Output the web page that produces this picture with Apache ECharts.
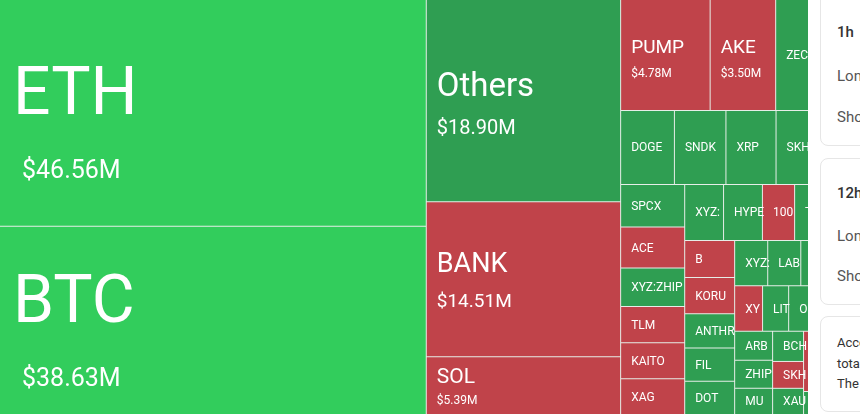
<!DOCTYPE html>
<html>
<head>
<meta charset="utf-8">
<script src="https://cdn.jsdelivr.net/npm/echarts@6/dist/echarts.min.js"></script>
<style>
    html, body { margin: 0; padding: 0; background: #fff; overflow: hidden; }
    .wrap { position: relative; width: 860px; height: 414px; overflow: hidden; }
    #main { position: absolute; left: 0; top: 0; width: 860px; height: 414px; background: #e6eee8; }
    .side { position: absolute; left: 808px; top: 0; width: 320px; height: 414px; background: #fff;
        font-family: Roboto, "Noto Sans", sans-serif; }
    .card { position: absolute; left: 12px; width: 300px; border: 1px solid #e6e6e6; border-radius: 8px; background: #fff; }
    .card div { position: absolute; left: 16px; white-space: nowrap; line-height: 20px; }
    .ttl { font-size: 15px; font-weight: 500; color: #333; }
    .row { font-size: 15px; color: #555; }
    .note { font-size: 13px; color: #333; }
</style>
</head>
<body>
<div class="wrap">
    <div id="main"></div>
    <div class="side">
        <div class="card" style="top:-8px;height:152px">
            <div class="ttl" style="top:29px">1h</div>
            <div class="row" style="top:73px">Long</div>
            <div class="row" style="top:114px">Short</div>
        </div>
        <div class="card" style="top:158px;height:145px">
            <div class="ttl" style="top:24px">12h</div>
            <div class="row" style="top:67px">Long</div>
            <div class="row" style="top:107px">Short</div>
        </div>
        <div class="card" style="top:316px;height:94px">
            <div class="note" style="top:16px">According to the data, in the past 24 hours,</div>
            <div class="note" style="top:37px">total liquidations across the market</div>
            <div class="note" style="top:57px">The largest single liquidation order</div>
        </div>
    </div>
</div>
<script>
    // liquidation per coin, $M, in the order the cells are laid out
    var names = [
        'ETH', 'BTC',
        'Others', 'BANK', 'SOL',
        'PUMP', 'AKE', 'ZEC', 'ASTER',
        'DOGE', 'SNDK', 'XRP', 'SKHX', 'SUI',
        'SPCX', 'ACE', 'XYZ:ZHIPU', 'TLM', 'KAITO', 'XAG',
        'XYZ:CRCL', 'HYPE', '1000PEPE', 'TAO', 'ENA',
        'B', 'KORU', 'ANTHROPIC', 'FIL', 'DOT',
        'XYZ:TSLA', 'LAB', 'WLD', 'ADA',
        'XYZ:NVDA', 'LIT', 'ONDO', 'LINK', 'AVAX',
        'ARB', 'ZHIPU', 'MU',
        'BCH', 'SKHYNIX', 'XAU',
        'TRUMP', 'BNB', 'PEPE', 'WIF'
    ];
    var values = [
        46.56, 38.63,
        18.90, 14.51, 5.39,
        4.78, 3.50, 1.90, 2.63,
        1.91, 1.83, 1.78, 1.70, 1.30,
        1.31, 1.27, 1.18, 1.12, 1.11, 1.10,
        1.05, 1.05, 0.87, 0.89, 0.89,
        0.89, 0.87, 0.82, 0.80, 0.80,
        0.72, 0.72, 0.65, 0.65,
        0.61, 0.57, 0.57, 0.52, 0.48,
        0.53, 0.51, 0.48,
        0.45, 0.40, 0.39,
        1.00, 0.65, 0.36, 0.27
    ];
    // 2 strong long, 1 long, -1 short
    var sides = [
        2, 2,
        1, -1, -1,
        -1, -1, 1, 1,
        1, 1, 1, 1, 1,
        1, -1, 1, -1, -1, -1,
        1, 1, -1, 1, 1,
        -1, -1, 1, 1, 1,
        1, 1, 1, 1,
        -1, 1, 1, 1, 1,
        1, 1, 1,
        1, -1, 1,
        -1, 1, 1, 1
    ];

    var colors = { '2': '#32cd5c', '1': '#2f9e52', '-1': '#c0434a' };

    // label size by cell value; block = total line height, shift = nudge down
    function tierOf(v) {
        if (v >= 30) return { id: 1, block: 148, shift: 6 };
        if (v >= 17) return { id: 2, block: 82, shift: 2.5 };
        if (v >= 10) return { id: 3, block: 75, shift: 2 };
        if (v >= 5) return { id: 4, block: 47, shift: 1.5 };
        if (v >= 3) return { id: 5, block: 50, shift: 1.5 };
        return { id: 6, block: 14, shift: 1 };
    }

    function buildData(heights) {
        return names.map(function (n, i) {
            var h = heights[n];
            var t = tierOf(values[i]);
            var top = h ? Math.max(0, (h - t.block) / 2 + t.shift) : 4;
            return {
                name: n,
                value: values[i],
                itemStyle: { color: colors[sides[i]] },
                label: { padding: [top, -5, 0, 10] }
            };
        });
    }

    function makeOption(heights) {
        return {
            animation: false,
            series: [{
                type: 'treemap',
                left: 0, top: 0, right: 0, bottom: 0,
                roam: false,
                nodeClick: false,
                sort: false,
                visibleMin: 0,
                breadcrumb: { show: false },
                itemStyle: { borderWidth: 0, gapWidth: 1, borderColor: '#e6eee8' },
                label: {
                    show: true,
                    position: 'insideTopLeft',
                    distance: 0,
                    color: '#fff',
                    fontFamily: 'Roboto',
                    overflow: 'truncate',
                    ellipsis: '',
                    formatter: function (p) {
                        var t = tierOf(p.value);
                        if (t.id === 6) return '{s|' + p.name + '}';
                        return '{n' + t.id + '|' + p.name + '}\n{v' + t.id + '|$' + p.value.toFixed(2) + 'M}';
                    },
                    rich: {
                        n1: { fontSize: 66, lineHeight: 106, color: '#fff', fontFamily: 'Roboto', padding: [0, 0, 0, 3] },
                        v1: { fontSize: 25, lineHeight: 42, color: '#fff', fontFamily: 'Roboto', padding: [0, 0, 0, 12] },
                        n2: { fontSize: 33, lineHeight: 51, color: '#fff', fontFamily: 'Roboto' },
                        v2: { fontSize: 20, lineHeight: 31, color: '#fff', fontFamily: 'Roboto' },
                        n3: { fontSize: 27, lineHeight: 42, color: '#fff', fontFamily: 'Roboto' },
                        v3: { fontSize: 19, lineHeight: 33, color: '#fff', fontFamily: 'Roboto' },
                        n4: { fontSize: 21, lineHeight: 28, color: '#fff', fontFamily: 'Roboto' },
                        v4: { fontSize: 12, lineHeight: 19, color: '#fff', fontFamily: 'Roboto' },
                        n5: { fontSize: 19, lineHeight: 34, color: '#fff', fontFamily: 'Roboto' },
                        v5: { fontSize: 12, lineHeight: 16, color: '#fff', fontFamily: 'Roboto' },
                        s: { fontSize: 12, lineHeight: 14, color: '#fff', fontFamily: 'Roboto' }
                    }
                },
                data: buildData(heights)
            }]
        };
    }

    var chart = echarts.init(document.getElementById('main'));
    chart.setOption(makeOption({}));

    // second pass: centre the labels vertically using the cell sizes the treemap computed
    var heights = {};
    try {
        var tree = chart.getModel().getSeriesByIndex(0).getData().tree;
        tree.root.children.forEach(function (node) {
            var lay = node.getLayout();
            if (lay) heights[node.name] = lay.height;
        });
    } catch (e) {}
    chart.setOption(makeOption(heights));
</script>
</body>
</html>
